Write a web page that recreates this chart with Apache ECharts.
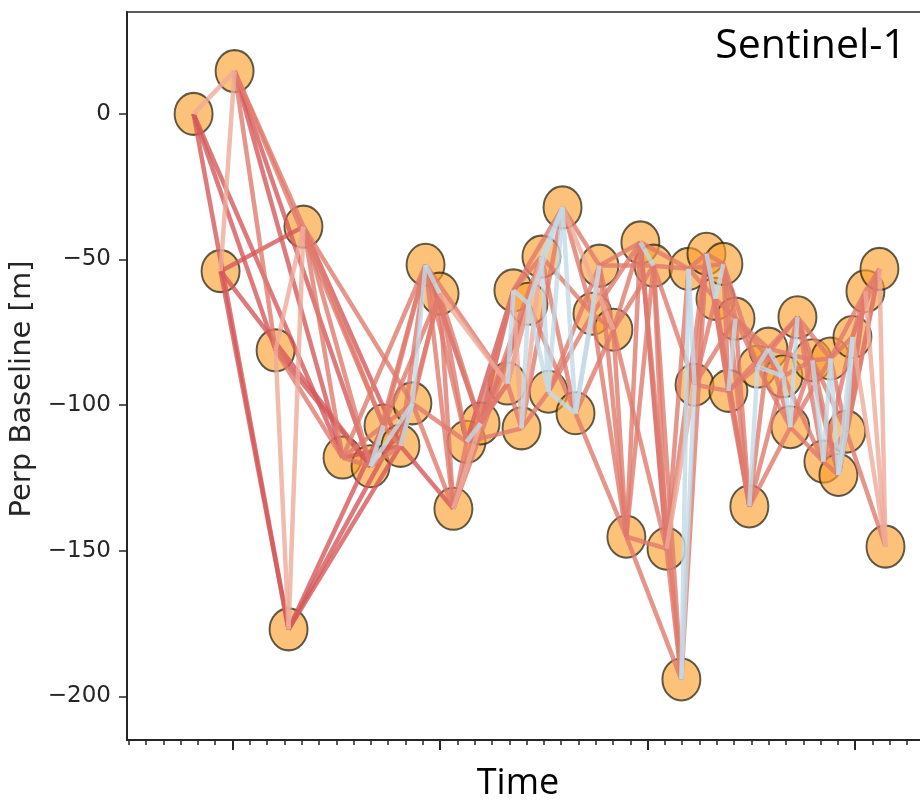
<!DOCTYPE html>
<html><head><meta charset="utf-8">
<script src="https://cdn.jsdelivr.net/npm/echarts@6/dist/echarts.min.js"></script>
<style>html,body{margin:0;padding:0;background:#fff;overflow:hidden}#c{width:980px;height:803px}</style>
</head><body><div id="c"></div>
<script>
// acquisition time in months relative to Jan of the first labelled year
const months = [-2.25,-0.69,0.12,2.49,3.24,4.10,6.36,7.98,8.73,9.71,10.40,11.16,11.97,12.77,13.53,14.34,15.90,16.24,16.71,17.11,17.86,18.27,19.08,19.83,20.81,21.21,22.02,22.77,23.58,24.34,25.09,25.95,26.36,26.71,27.40,27.92,28.38,28.67,29.08,29.88,30.35,30.98,31.85,32.25,32.66,33.53,34.16,34.57,35.03,35.49,35.84,36.59,37.40,37.75];
// perpendicular baseline [m]
const baselines = [0,-54,14.7,-81.2,-177,-38.7,-118,-121,-107,-114,-99.4,-51.8,-61.7,-135.6,-112.6,-106.3,-92.6,-60.6,-108,-65.2,-49,-95.4,-32.1,-102.8,-68.6,-52.1,-74.1,-145.2,-44.1,-52.1,-149.3,-194.2,-53.2,-93,-48,-63.5,-51.5,-95.1,-70.3,-134.8,-86.8,-80.6,-90.1,-107.6,-69.8,-84.6,-119.4,-84,-124,-109.1,-76.6,-60.9,-53.2,-148.6];
// interferogram pairs [from, to, coherence class]
const edges = [
[0,2,'p'],[0,3,'r'],[0,4,'r'],[0,6,'r'],
[1,2,'p'],[1,4,'r'],[1,5,'r'],[1,7,'r'],
[2,3,'s'],[2,5,'s'],[2,6,'r'],[2,7,'r'],[2,8,'s'],
[3,5,'p'],[3,6,'s'],[3,7,'r'],[3,4,'p'],
[4,5,'p'],[4,8,'r'],[4,9,'r'],[4,10,'r'],
[5,6,'s'],[5,7,'s'],[5,8,'s'],[5,9,'r'],[5,10,'s'],
[6,7,'s'],[6,8,'s'],[6,11,'s'],[6,9,'r'],
[7,8,'b'],[7,9,'s'],[7,10,'b'],[7,11,'s'],
[8,9,'s'],[8,10,'s'],[8,11,'s'],[8,12,'s'],
[9,10,'b'],[9,11,'s'],[9,12,'s'],[9,13,'r'],
[10,11,'b'],[10,12,'s'],[10,13,'s'],[10,14,'s'],
[11,12,'b'],[11,13,'s'],[11,14,'s'],[11,15,'r'],[11,16,'s'],
[12,13,'s'],[12,14,'s'],[12,15,'s'],[12,16,'p'],
[13,14,'s'],[13,15,'p'],[13,17,'s'],[13,19,'s'],
[14,15,'b'],[14,16,'s'],[14,17,'r'],[14,18,'s'],
[15,16,'s'],[15,17,'r'],[15,19,'r'],[15,20,'s'],
[16,17,'b'],[16,18,'s'],[16,19,'s'],[16,20,'p'],
[17,18,'p'],[17,19,'b'],[17,20,'s'],[17,22,'s'],
[18,19,'b'],[18,20,'p'],[18,21,'s'],[18,22,'s'],
[19,20,'s'],[19,21,'b'],[19,22,'b'],[19,23,'s'],
[20,21,'b'],[20,22,'b'],[20,23,'s'],[20,24,'s'],
[21,22,'b'],[21,23,'b'],[21,24,'s'],[21,25,'s'],
[22,23,'b'],[22,24,'s'],[22,25,'s'],[22,26,'p'],
[23,24,'b'],[23,25,'b'],[23,26,'s'],[23,27,'s'],
[24,25,'p'],[24,26,'s'],[24,27,'s'],[24,28,'s'],
[25,26,'s'],[25,27,'s'],[25,28,'s'],[25,29,'s'],
[26,27,'s'],[26,28,'s'],[26,29,'s'],[26,30,'s'],
[27,28,'s'],[27,29,'s'],[27,30,'s'],[27,31,'s'],
[28,29,'b'],[28,30,'r'],[28,31,'s'],[28,32,'s'],
[29,30,'s'],[29,31,'s'],[29,32,'s'],[29,33,'s'],
[30,31,'s'],[30,32,'s'],[30,33,'p'],[30,34,'s'],
[31,32,'b'],[31,33,'b'],[31,34,'s'],
[32,33,'b'],[32,34,'s'],[32,35,'s'],[32,36,'s'],
[33,34,'s'],[33,35,'s'],[33,37,'s'],[33,38,'s'],
[34,35,'b'],[34,36,'s'],[34,37,'s'],[34,39,'s'],
[35,36,'b'],[35,37,'s'],[35,38,'s'],[35,39,'s'],
[36,37,'s'],[36,38,'s'],[36,39,'s'],[36,40,'s'],
[37,38,'b'],[37,39,'s'],[37,40,'s'],[37,41,'s'],
[38,39,'s'],[38,40,'s'],[38,41,'s'],[38,42,'s'],
[39,40,'b'],[39,41,'s'],[39,42,'s'],[39,43,'s'],
[40,41,'b'],[40,42,'b'],[40,43,'s'],[40,44,'s'],
[41,42,'b'],[41,43,'s'],[41,44,'s'],[41,45,'s'],
[42,43,'b'],[42,44,'s'],[42,45,'s'],[42,46,'s'],
[43,44,'b'],[43,45,'s'],[43,46,'s'],[43,47,'s'],
[44,45,'s'],[44,46,'s'],[44,47,'s'],[44,48,'s'],
[45,46,'b'],[45,47,'s'],[45,48,'s'],[45,49,'s'],
[46,47,'b'],[46,48,'s'],[46,49,'s'],[46,50,'s'],
[47,48,'b'],[47,49,'s'],[47,50,'s'],[47,51,'s'],
[48,49,'b'],[48,50,'b'],[48,51,'s'],[48,52,'s'],
[49,50,'b'],[49,51,'s'],[49,52,'s'],[49,53,'s'],
[50,51,'s'],[50,52,'s'],[50,53,'p'],
[51,52,'s'],[51,53,'p'],
[52,53,'p']
];
const yTicks = [0,-50,-100,-150,-200];
const monthTicks = [-6,-5,-4,-3,-2,-1,0,1,2,3,4,5,6,7,8,9,10,11,12,13,14,15,16,17,18,19,20,21,22,23,24,25,26,27,28,29,30,31,32,33,34,35,36,37,38,39,40,41];
const yearTicks = [0,12,24,36];

const classColor = {r:'#d4595a', s:'#e07b6d', p:'#eeaa9a', b:'#c3d9e6'};
const classOrder = ['r','s','p','b'];

const chart = echarts.init(document.getElementById('c'), null, {renderer:'canvas'});
const lineData = [];
classOrder.forEach(function(cls){
  edges.forEach(function(e){
    if (e[2] !== cls) return;
    lineData.push({coords:[[months[e[0]], baselines[e[0]]],[months[e[1]], baselines[e[1]]]], lineStyle:{color:classColor[cls]}});
  });
});
const axisColor = '#262626';
chart.setOption({
  animation:false,
  backgroundColor:'#ffffff',
  grid:{left:127, top:12, width:832, bottom:63, show:true, borderColor:axisColor, borderWidth:1.5, backgroundColor:'transparent'},
  xAxis:[
    {type:'value', min:-6.1, max:42, position:'bottom',
     axisLine:{show:true, onZero:false, lineStyle:{color:axisColor, width:2}},
     axisTick:{show:true, customValues:monthTicks, length:5, lineStyle:{color:axisColor, width:1.5}},
     axisLabel:{show:false}, splitLine:{show:false}},
    {type:'value', min:-6.1, max:42, position:'bottom',
     axisLine:{show:false, onZero:false},
     axisTick:{show:true, customValues:yearTicks, length:10, lineStyle:{color:axisColor, width:2}},
     axisLabel:{show:false}, splitLine:{show:false}}
  ],
  yAxis:{type:'value', min:-215, max:35,
     axisLine:{show:true, onZero:false, lineStyle:{color:axisColor, width:2}},
     axisTick:{show:true, customValues:yTicks, length:8, lineStyle:{color:axisColor, width:1.5}},
     axisLabel:{show:true, customValues:yTicks, margin:16, fontFamily:'DejaVu Sans', fontSize:23, color:'#262626',
       formatter:function(v){ return v < 0 ? '\u2212' + Math.abs(v) : String(v); }},
     splitLine:{show:false}},
  series:[
    {type:'scatter', xAxisIndex:0, yAxisIndex:0, z:2, silent:true,
     symbol:'circle', symbolSize:[38,42],
     data: months.map(function(m,i){ return [m, baselines[i]]; }),
     itemStyle:{color:'rgba(250,160,45,0.8)', borderColor:'rgba(35,32,18,0.9)', borderWidth:2}},
    {type:'lines', coordinateSystem:'cartesian2d', xAxisIndex:0, yAxisIndex:0, z:3, silent:true,
     polyline:false, data:lineData,
     lineStyle:{width:4.5, opacity:0.8}}
  ],
  graphic:[
    {type:'text', x:906, y:46, z:10, style:{text:'Sentinel-1', font:'41px "Open Sans"', fill:'#000', align:'right', verticalAlign:'middle'}},
    {type:'text', x:518, y:784, z:10, style:{text:'Time', font:'36px "Open Sans"', fill:'#000', align:'center', verticalAlign:'middle'}},
    {type:'text', x:22, y:389, rotation:Math.PI/2, z:10, style:{text:'Perp Baseline [m]', font:'29px "DejaVu Sans"', fill:'#262626', align:'center', verticalAlign:'middle'}}
  ]
});
</script></body></html>
